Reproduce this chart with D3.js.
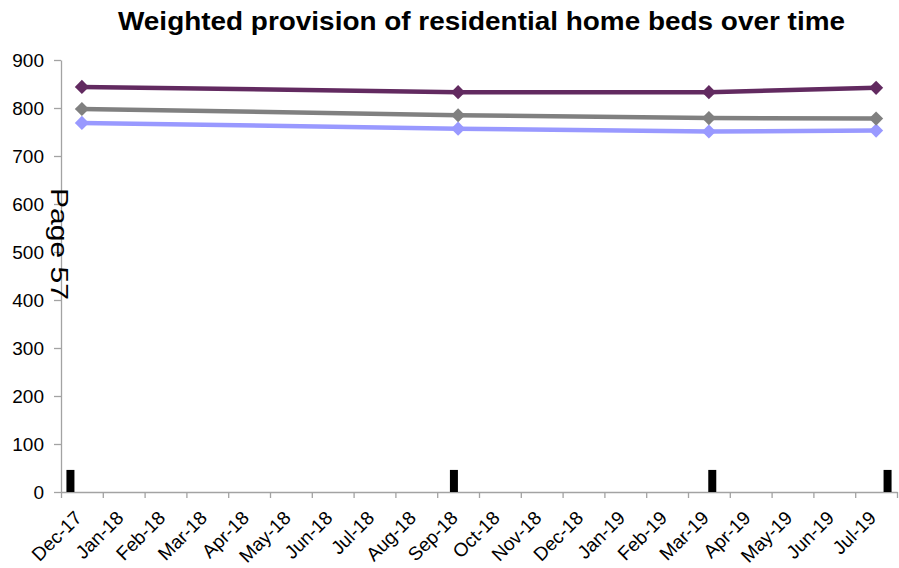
<!DOCTYPE html>
<html>
<head>
<meta charset="utf-8">
<script src="https://cdn.jsdelivr.net/npm/d3@7"></script>
<style>
  html, body { margin: 0; padding: 0; background: #ffffff; }
  svg { display: block; font-family: "Liberation Sans", Arial, sans-serif; }
</style>
</head>
<body>
<svg id="chart" width="899" height="568"></svg>
<script>
// Monthly categories along the date axis
const months = ["Dec-17", "Jan-18", "Feb-18", "Mar-18", "Apr-18", "May-18", "Jun-18",
  "Jul-18", "Aug-18", "Sep-18", "Oct-18", "Nov-18", "Dec-18", "Jan-19", "Feb-19",
  "Mar-19", "Apr-19", "May-19", "Jun-19", "Jul-19"];

// Months with recorded values
const pointMonths = ["Dec-17", "Sep-18", "Mar-19", "Jul-19"];

// Weighted bed provision per series
const purpleValues = [844, 833, 833, 842];
const greyValues = [798, 785, 779, 778];
const lavenderValues = [769, 757, 751, 753];

// Small black columns
const barDates = ["2017-12-08", "2018-09-13", "2019-03-19", "2019-07-25"];
const barValues = [46, 46, 46, 46];

const yTicks = [0, 100, 200, 300, 400, 500, 600, 700, 800, 900];

const titleText = "Weighted provision of residential home beds over time";
const pageText = "Page 57";

const svg = d3.select("#chart");

const plot = { left: 61, right: 897, top: 60, bottom: 492 };

const x = d3.scaleBand().domain(months).range([plot.left, plot.right]).padding(0);
const xEdges = d3.scaleLinear().domain([0, months.length]).range([plot.left, plot.right]);
const y = d3.scaleLinear().domain([0, 900]).range([plot.bottom, plot.top]);

const axisColor = "#a3a3a3";

// Title
svg.append("text")
  .attr("x", 481.5)
  .attr("y", 30)
  .attr("text-anchor", "middle")
  .attr("font-size", 25)
  .attr("font-weight", "bold")
  .attr("textLength", 727)
  .attr("lengthAdjust", "spacingAndGlyphs")
  .attr("fill", "#000")
  .text(titleText);

// Y axis
const yAxis = svg.append("g")
  .attr("transform", `translate(${plot.left},0)`)
  .call(d3.axisLeft(y).tickValues(yTicks).tickSize(7).tickSizeOuter(0).tickPadding(10));
yAxis.select(".domain").attr("stroke", axisColor).attr("stroke-width", 1.3);
yAxis.selectAll(".tick line").attr("stroke", axisColor).attr("stroke-width", 1.3);
yAxis.selectAll(".tick text")
  .attr("font-size", 19)
  .attr("font-family", "Liberation Sans, Arial, sans-serif")
  .attr("fill", "#000");

// X axis: tick marks on the month boundaries
const xAxis = svg.append("g")
  .attr("transform", `translate(0,${plot.bottom})`)
  .call(d3.axisBottom(xEdges).tickValues(d3.range(months.length + 1)).tickSize(6).tickSizeOuter(0).tickFormat(""));
xAxis.select(".domain").attr("stroke", axisColor).attr("stroke-width", 1.3);
xAxis.selectAll(".tick line").attr("stroke", axisColor).attr("stroke-width", 1.3);

// X axis labels, rotated, centred on each month band
const xLabels = svg.append("g")
  .attr("transform", `translate(0,${plot.bottom})`)
  .call(d3.axisBottom(x).tickSize(0).tickSizeOuter(0).tickPadding(0));
xLabels.select(".domain").remove();
xLabels.selectAll(".tick text")
  .attr("font-size", 19)
  .attr("font-family", "Liberation Sans, Arial, sans-serif")
  .attr("fill", "#000")
  .attr("text-anchor", "end")
  .attr("dy", 0)
  .attr("y", 0)
  .attr("transform", "translate(1,27) rotate(-45)");

// Black columns positioned by date within their month band
const parseDate = d3.timeParse("%Y-%m-%d");
const monthKey = d3.timeFormat("%b-%y");
function dateX(str) {
  const d = parseDate(str);
  const days = d3.timeDay.count(d3.timeMonth.floor(d), d3.timeMonth.ceil(d3.timeDay.offset(d, 1)));
  return x(monthKey(d)) + x.bandwidth() * (d.getDate() - 1) / days;
}
const barWidth = 8;
svg.append("g").selectAll("rect")
  .data(barDates.map((d, i) => ({ date: d, value: barValues[i] })))
  .join("rect")
  .attr("x", d => dateX(d.date) - barWidth / 2)
  .attr("y", d => y(d.value))
  .attr("width", barWidth)
  .attr("height", d => y(0) - y(d.value))
  .attr("fill", "#000");

// Line series with diamond markers
const series = [
  { values: lavenderValues, color: "#9999ff" },
  { values: greyValues, color: "#808080" },
  { values: purpleValues, color: "#622a60" }
];

const line = d3.line()
  .x(d => x(d.month) + x.bandwidth() / 2)
  .y(d => y(d.value));

const diamond = d3.symbol().type(d3.symbolSquare).size(100);

series.forEach(s => {
  const pts = pointMonths.map((m, i) => ({ month: m, value: s.values[i] }));
  const g = svg.append("g");
  g.append("path")
    .datum(pts)
    .attr("d", line)
    .attr("fill", "none")
    .attr("stroke", s.color)
    .attr("stroke-width", 4.5)
    .attr("stroke-linejoin", "round");
  g.selectAll("path.marker")
    .data(pts)
    .join("path")
    .attr("class", "marker")
    .attr("d", diamond)
    .attr("transform", d => `translate(${x(d.month) + x.bandwidth() / 2},${y(d.value)}) rotate(45)`)
    .attr("fill", s.color);
});

// Page number, running down the left side
svg.append("text")
  .attr("transform", "translate(51,188) rotate(90)")
  .attr("font-size", 23)
  .attr("textLength", 112)
  .attr("lengthAdjust", "spacingAndGlyphs")
  .attr("fill", "#000")
  .text(pageText);
</script>
</body>
</html>
